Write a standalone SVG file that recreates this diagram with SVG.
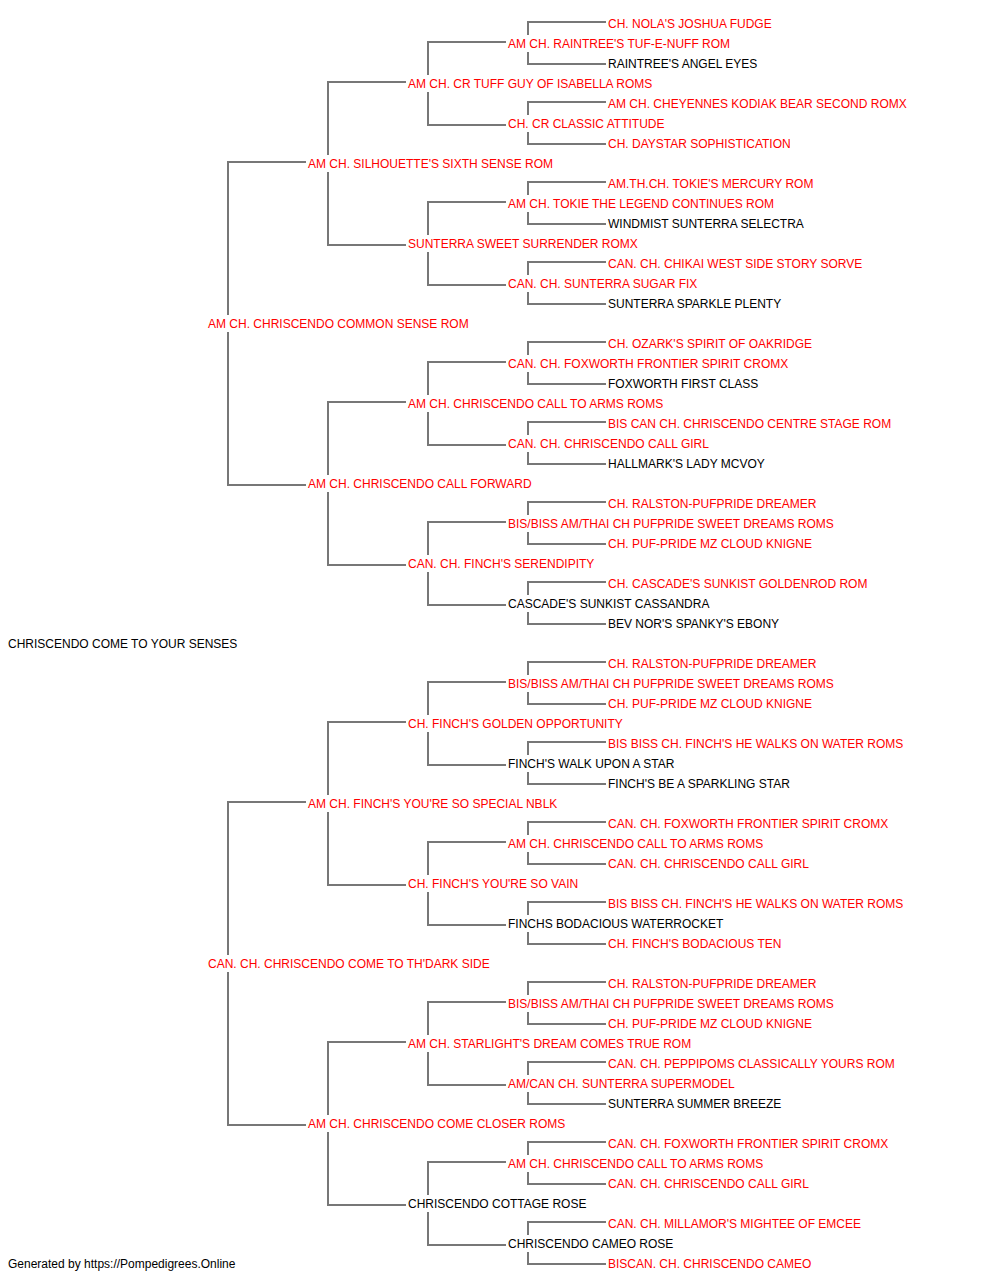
<svg xmlns="http://www.w3.org/2000/svg" width="1000" height="1280" viewBox="0 0 1000 1280">
<style>
text{font-family:"Liberation Sans",Arial,sans-serif;font-size:12px}
.r{fill:#ff0000}
.k{fill:#000000}
.c path{fill:none;stroke:#777777;stroke-width:2}
</style>
<rect width="1000" height="1280" fill="#ffffff"/>
<g class="c" id="connectors">
<path d="M306,162H228V315M228,332V485H306"/>
<path d="M306,802H228V955M228,972V1125H306"/>
<path d="M406,82H328V155M328,172V245H406"/>
<path d="M406,402H328V475M328,492V565H406"/>
<path d="M406,722H328V795M328,812V885H406"/>
<path d="M406,1042H328V1115M328,1132V1205H406"/>
<path d="M506,42H428V75M428,92V125H506"/>
<path d="M506,202H428V235M428,252V285H506"/>
<path d="M506,362H428V395M428,412V445H506"/>
<path d="M506,522H428V555M428,572V605H506"/>
<path d="M506,682H428V715M428,732V765H506"/>
<path d="M506,842H428V875M428,892V925H506"/>
<path d="M506,1002H428V1035M428,1052V1085H506"/>
<path d="M506,1162H428V1195M428,1212V1245H506"/>
<path d="M606,22H528V35M528,52V64H606"/>
<path d="M606,102H528V115M528,132V144H606"/>
<path d="M606,182H528V195M528,212V224H606"/>
<path d="M606,262H528V275M528,292V304H606"/>
<path d="M606,342H528V355M528,372V384H606"/>
<path d="M606,422H528V435M528,452V464H606"/>
<path d="M606,502H528V515M528,532V544H606"/>
<path d="M606,582H528V595M528,612V624H606"/>
<path d="M606,662H528V675M528,692V704H606"/>
<path d="M606,742H528V755M528,772V784H606"/>
<path d="M606,822H528V835M528,852V864H606"/>
<path d="M606,902H528V915M528,932V944H606"/>
<path d="M606,982H528V995M528,1012V1024H606"/>
<path d="M606,1062H528V1075M528,1092V1104H606"/>
<path d="M606,1142H528V1155M528,1172V1184H606"/>
<path d="M606,1222H528V1235M528,1252V1264H606"/>
</g>
<g id="n0"><text class="r" x="608" y="28">CH. NOLA'S JOSHUA FUDGE</text></g>
<g id="n1"><text class="r" x="508" y="48">AM CH. RAINTREE'S TUF-E-NUFF ROM</text></g>
<g id="n2"><text class="k" x="608" y="68">RAINTREE'S ANGEL EYES</text></g>
<g id="n3"><text class="r" x="408" y="88">AM CH. CR TUFF GUY OF ISABELLA ROMS</text></g>
<g id="n4"><text class="r" x="608" y="108">AM CH. CHEYENNES KODIAK BEAR SECOND ROMX</text></g>
<g id="n5"><text class="r" x="508" y="128">CH. CR CLASSIC ATTITUDE</text></g>
<g id="n6"><text class="r" x="608" y="148">CH. DAYSTAR SOPHISTICATION</text></g>
<g id="n7"><text class="r" x="308" y="168">AM CH. SILHOUETTE'S SIXTH SENSE ROM</text></g>
<g id="n8"><text class="r" x="608" y="188">AM.TH.CH. TOKIE'S MERCURY ROM</text></g>
<g id="n9"><text class="r" x="508" y="208">AM CH. TOKIE THE LEGEND CONTINUES ROM</text></g>
<g id="n10"><text class="k" x="608" y="228">WINDMIST SUNTERRA SELECTRA</text></g>
<g id="n11"><text class="r" x="408" y="248">SUNTERRA SWEET SURRENDER ROMX</text></g>
<g id="n12"><text class="r" x="608" y="268">CAN. CH. CHIKAI WEST SIDE STORY SORVE</text></g>
<g id="n13"><text class="r" x="508" y="288">CAN. CH. SUNTERRA SUGAR FIX</text></g>
<g id="n14"><text class="k" x="608" y="308">SUNTERRA SPARKLE PLENTY</text></g>
<g id="n15"><text class="r" x="208" y="328">AM CH. CHRISCENDO COMMON SENSE ROM</text></g>
<g id="n16"><text class="r" x="608" y="348">CH. OZARK'S SPIRIT OF OAKRIDGE</text></g>
<g id="n17"><text class="r" x="508" y="368">CAN. CH. FOXWORTH FRONTIER SPIRIT CROMX</text></g>
<g id="n18"><text class="k" x="608" y="388">FOXWORTH FIRST CLASS</text></g>
<g id="n19"><text class="r" x="408" y="408">AM CH. CHRISCENDO CALL TO ARMS ROMS</text></g>
<g id="n20"><text class="r" x="608" y="428">BIS CAN CH. CHRISCENDO CENTRE STAGE ROM</text></g>
<g id="n21"><text class="r" x="508" y="448">CAN. CH. CHRISCENDO CALL GIRL</text></g>
<g id="n22"><text class="k" x="608" y="468">HALLMARK'S LADY MCVOY</text></g>
<g id="n23"><text class="r" x="308" y="488">AM CH. CHRISCENDO CALL FORWARD</text></g>
<g id="n24"><text class="r" x="608" y="508">CH. RALSTON-PUFPRIDE DREAMER</text></g>
<g id="n25"><text class="r" x="508" y="528">BIS/BISS AM/THAI CH PUFPRIDE SWEET DREAMS ROMS</text></g>
<g id="n26"><text class="r" x="608" y="548">CH. PUF-PRIDE MZ CLOUD KNIGNE</text></g>
<g id="n27"><text class="r" x="408" y="568">CAN. CH. FINCH'S SERENDIPITY</text></g>
<g id="n28"><text class="r" x="608" y="588">CH. CASCADE'S SUNKIST GOLDENROD ROM</text></g>
<g id="n29"><text class="k" x="508" y="608">CASCADE'S SUNKIST CASSANDRA</text></g>
<g id="n30"><text class="k" x="608" y="628">BEV NOR'S SPANKY'S EBONY</text></g>
<g id="n31"><text class="k" x="8" y="648">CHRISCENDO COME TO YOUR SENSES</text></g>
<g id="n32"><text class="r" x="608" y="668">CH. RALSTON-PUFPRIDE DREAMER</text></g>
<g id="n33"><text class="r" x="508" y="688">BIS/BISS AM/THAI CH PUFPRIDE SWEET DREAMS ROMS</text></g>
<g id="n34"><text class="r" x="608" y="708">CH. PUF-PRIDE MZ CLOUD KNIGNE</text></g>
<g id="n35"><text class="r" x="408" y="728">CH. FINCH'S GOLDEN OPPORTUNITY</text></g>
<g id="n36"><text class="r" x="608" y="748">BIS BISS CH. FINCH'S HE WALKS ON WATER ROMS</text></g>
<g id="n37"><text class="k" x="508" y="768">FINCH'S WALK UPON A STAR</text></g>
<g id="n38"><text class="k" x="608" y="788">FINCH'S BE A SPARKLING STAR</text></g>
<g id="n39"><text class="r" x="308" y="808">AM CH. FINCH'S YOU'RE SO SPECIAL NBLK</text></g>
<g id="n40"><text class="r" x="608" y="828">CAN. CH. FOXWORTH FRONTIER SPIRIT CROMX</text></g>
<g id="n41"><text class="r" x="508" y="848">AM CH. CHRISCENDO CALL TO ARMS ROMS</text></g>
<g id="n42"><text class="r" x="608" y="868">CAN. CH. CHRISCENDO CALL GIRL</text></g>
<g id="n43"><text class="r" x="408" y="888">CH. FINCH'S YOU'RE SO VAIN</text></g>
<g id="n44"><text class="r" x="608" y="908">BIS BISS CH. FINCH'S HE WALKS ON WATER ROMS</text></g>
<g id="n45"><text class="k" x="508" y="928">FINCHS BODACIOUS WATERROCKET</text></g>
<g id="n46"><text class="r" x="608" y="948">CH. FINCH'S BODACIOUS TEN</text></g>
<g id="n47"><text class="r" x="208" y="968">CAN. CH. CHRISCENDO COME TO TH'DARK SIDE</text></g>
<g id="n48"><text class="r" x="608" y="988">CH. RALSTON-PUFPRIDE DREAMER</text></g>
<g id="n49"><text class="r" x="508" y="1008">BIS/BISS AM/THAI CH PUFPRIDE SWEET DREAMS ROMS</text></g>
<g id="n50"><text class="r" x="608" y="1028">CH. PUF-PRIDE MZ CLOUD KNIGNE</text></g>
<g id="n51"><text class="r" x="408" y="1048">AM CH. STARLIGHT'S DREAM COMES TRUE ROM</text></g>
<g id="n52"><text class="r" x="608" y="1068">CAN. CH. PEPPIPOMS CLASSICALLY YOURS ROM</text></g>
<g id="n53"><text class="r" x="508" y="1088">AM/CAN CH. SUNTERRA SUPERMODEL</text></g>
<g id="n54"><text class="k" x="608" y="1108">SUNTERRA SUMMER BREEZE</text></g>
<g id="n55"><text class="r" x="308" y="1128">AM CH. CHRISCENDO COME CLOSER ROMS</text></g>
<g id="n56"><text class="r" x="608" y="1148">CAN. CH. FOXWORTH FRONTIER SPIRIT CROMX</text></g>
<g id="n57"><text class="r" x="508" y="1168">AM CH. CHRISCENDO CALL TO ARMS ROMS</text></g>
<g id="n58"><text class="r" x="608" y="1188">CAN. CH. CHRISCENDO CALL GIRL</text></g>
<g id="n59"><text class="k" x="408" y="1208">CHRISCENDO COTTAGE ROSE</text></g>
<g id="n60"><text class="r" x="608" y="1228">CAN. CH. MILLAMOR'S MIGHTEE OF EMCEE</text></g>
<g id="n61"><text class="k" x="508" y="1248">CHRISCENDO CAMEO ROSE</text></g>
<g id="n62"><text class="r" x="608" y="1268">BISCAN. CH. CHRISCENDO CAMEO</text></g>
<g id="footer"><text class="k" x="8" y="1268">Generated by https://Pompedigrees.Online</text></g>
</svg>
